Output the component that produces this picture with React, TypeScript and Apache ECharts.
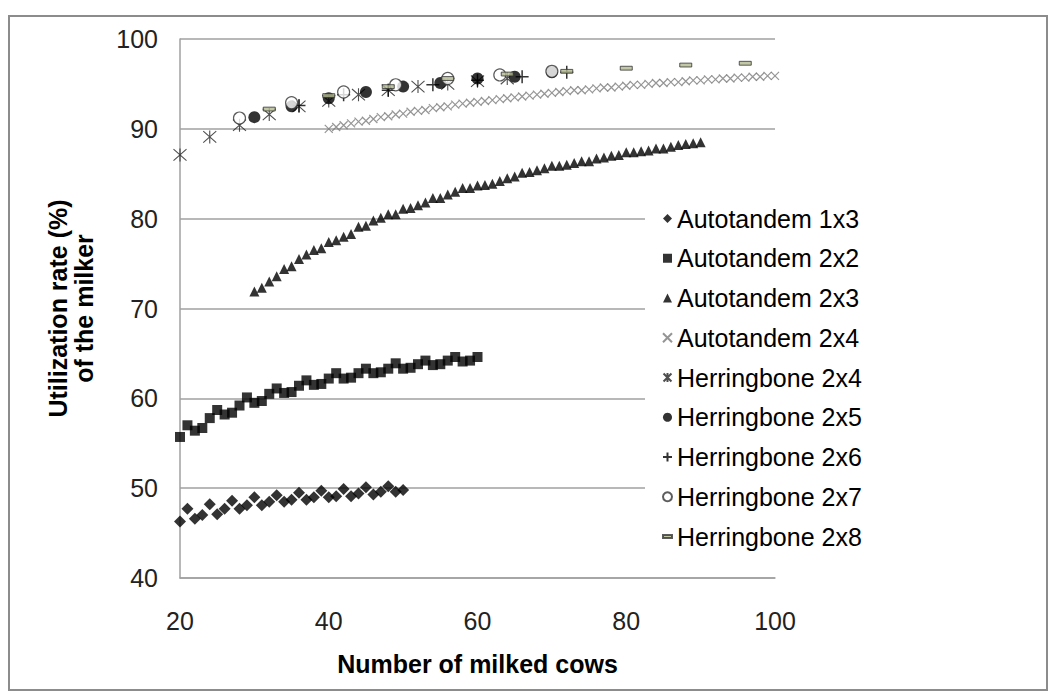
import React, { useEffect, useRef } from "react";
import * as echarts from "echarts";

const FONT = "'Liberation Sans', Arial, Helvetica, sans-serif";

const xTicks = [20, 40, 60, 80, 100];
const yTicks = [40, 50, 60, 70, 80, 90, 100];

const seriesNames = [
  "Autotandem 1x3",
  "Autotandem 2x2",
  "Autotandem 2x3",
  "Autotandem 2x4",
  "Herringbone 2x4",
  "Herringbone 2x5",
  "Herringbone 2x6",
  "Herringbone 2x7",
  "Herringbone 2x8",
];

const at13X = [20, 21, 22, 23, 24, 25, 26, 27, 28, 29, 30, 31, 32, 33, 34, 35, 36, 37, 38, 39, 40, 41, 42, 43, 44, 45, 46, 47, 48, 49, 50];
const at13Y = [46.3, 47.7, 46.6, 47.0, 48.2, 47.1, 47.7, 48.6, 47.7, 48.1, 49.0, 48.1, 48.5, 49.2, 48.5, 48.7, 49.5, 48.7, 49.0, 49.7, 49.0, 49.1, 49.9, 49.1, 49.4, 50.1, 49.3, 49.6, 50.2, 49.6, 49.8];

const at22X = [20, 21, 22, 23, 24, 25, 26, 27, 28, 29, 30, 31, 32, 33, 34, 35, 36, 37, 38, 39, 40, 41, 42, 43, 44, 45, 46, 47, 48, 49, 50, 51, 52, 53, 54, 55, 56, 57, 58, 59, 60];
const at22Y = [55.7, 57.0, 56.4, 56.7, 57.8, 58.7, 58.2, 58.4, 59.2, 60.1, 59.5, 59.7, 60.5, 61.1, 60.6, 60.7, 61.4, 62.0, 61.5, 61.6, 62.2, 62.8, 62.2, 62.3, 62.8, 63.3, 62.8, 62.9, 63.3, 63.9, 63.3, 63.4, 63.8, 64.2, 63.7, 63.8, 64.2, 64.6, 64.1, 64.2, 64.6];

const at23X = [30, 31, 32, 33, 34, 35, 36, 37, 38, 39, 40, 41, 42, 43, 44, 45, 46, 47, 48, 49, 50, 51, 52, 53, 54, 55, 56, 57, 58, 59, 60, 61, 62, 63, 64, 65, 66, 67, 68, 69, 70, 71, 72, 73, 74, 75, 76, 77, 78, 79, 80, 81, 82, 83, 84, 85, 86, 87, 88, 89, 90];
const at23Y = [71.9, 72.3, 73.0, 73.6, 74.4, 74.7, 75.5, 76.0, 76.5, 76.7, 77.4, 77.6, 78.0, 78.3, 79.1, 79.2, 79.8, 80.1, 80.5, 80.5, 81.1, 81.2, 81.5, 81.8, 82.3, 82.3, 82.7, 83.0, 83.4, 83.4, 83.7, 83.75, 83.9, 84.2, 84.5, 84.7, 85.1, 85.2, 85.4, 85.6, 85.9, 85.9, 86.0, 86.2, 86.4, 86.4, 86.7, 86.8, 87.0, 87.1, 87.4, 87.4, 87.5, 87.6, 87.8, 87.8, 88.0, 88.2, 88.3, 88.4, 88.5];

const at24X = [40, 41, 42, 43, 44, 45, 46, 47, 48, 49, 50, 51, 52, 53, 54, 55, 56, 57, 58, 59, 60, 61, 62, 63, 64, 65, 66, 67, 68, 69, 70, 71, 72, 73, 74, 75, 76, 77, 78, 79, 80, 81, 82, 83, 84, 85, 86, 87, 88, 89, 90, 91, 92, 93, 94, 95, 96, 97, 98, 99, 100];
const at24Y = [90.0, 90.2, 90.4, 90.6, 90.8, 90.9, 91.1, 91.3, 91.4, 91.6, 91.7, 91.9, 92.0, 92.1, 92.3, 92.4, 92.5, 92.7, 92.8, 92.9, 93.0, 93.1, 93.2, 93.3, 93.4, 93.5, 93.6, 93.7, 93.8, 93.9, 94.0, 94.1, 94.2, 94.3, 94.3, 94.4, 94.5, 94.6, 94.6, 94.7, 94.8, 94.9, 94.9, 95.0, 95.1, 95.1, 95.2, 95.2, 95.3, 95.4, 95.4, 95.5, 95.5, 95.6, 95.6, 95.7, 95.7, 95.8, 95.8, 95.9, 95.9];

const hb24X = [20, 24, 28, 32, 36, 40, 44, 48, 52, 56, 60, 64];
const hb24Y = [87.1, 89.1, 90.4, 91.6, 92.5, 93.1, 93.8, 94.3, 94.7, 95.0, 95.3, 95.6];

const hb25X = [30, 35, 40, 45, 50, 55, 60, 65, 70];
const hb25Y = [91.3, 92.5, 93.4, 94.1, 94.7, 95.1, 95.6, 95.8, 96.3];

const hb26X = [36, 42, 48, 54, 60, 66, 72];
const hb26Y = [92.6, 93.8, 94.3, 94.9, 95.4, 95.8, 96.3];

const hb27X = [28, 35, 42, 49, 56, 63, 70];
const hb27Y = [91.2, 92.9, 94.1, 94.9, 95.6, 96.0, 96.4];

const hb28X = [32, 40, 48, 56, 64, 72, 80, 88, 96];
const hb28Y = [92.2, 93.7, 94.7, 95.6, 96.1, 96.4, 96.75, 97.1, 97.3];

const SYM_X = "path://M0 0L10 10M10 0L0 10";
const SYM_STAR = "path://M5 0V10M0.6 0.6L9.4 9.4M9.4 0.6L0.6 9.4";
const SYM_PLUS = "path://M5 0V10M0 5H10";
const SYM_DASH = "path://M0 0M10 10M0 3.4H10V6.6H0Z";

const pairs = (xs: number[], ys: number[]) => xs.map((x, i) => [x, ys[i]]);

const seriesDefs = [
  { x: at13X, y: at13Y, symbol: "diamond", size: 12, style: { color: "#000" } },
  { x: at22X, y: at22Y, symbol: "rect", size: 10, style: { color: "#000" } },
  { x: at23X, y: at23Y, symbol: "triangle", size: 10, style: { color: "#000" } },
  { x: at24X, y: at24Y, symbol: SYM_X, size: 8, style: { color: "#7a7a7a", borderColor: "#7a7a7a", borderWidth: 1.2 } },
  { x: hb24X, y: hb24Y, symbol: SYM_STAR, size: 13, style: { color: "#222", borderColor: "#222", borderWidth: 1.1 } },
  { x: hb25X, y: hb25Y, symbol: "circle", size: 12, style: { color: "#000" } },
  { x: hb26X, y: hb26Y, symbol: SYM_PLUS, size: 13, style: { color: "#000", borderColor: "#000", borderWidth: 1.5 } },
  { x: hb27X, y: hb27Y, symbol: "circle", size: 12, style: { color: "#fff", borderColor: "#333", borderWidth: 1.2 } },
  { x: hb28X, y: hb28Y, symbol: SYM_DASH, size: 12, style: { color: "#b3ba8f", borderColor: "#333", borderWidth: 1 } },
];

export default function App() {
  const ref = useRef<HTMLDivElement>(null);
  useEffect(() => {
    const chart = echarts.init(ref.current!, null, { renderer: "svg" });
    const gridColor = "#a0a0a0";
    chart.setOption({
      animation: false,
      backgroundColor: "#fff",
      textStyle: { fontFamily: FONT },
      grid: { left: 180, right: 281, top: 39, bottom: 119 },
      xAxis: {
        type: "value",
        min: xTicks[0],
        max: xTicks[xTicks.length - 1],
        interval: 20,
        axisLine: { show: true, lineStyle: { color: gridColor, width: 1.5 } },
        axisTick: { show: false },
        splitLine: { show: false },
        axisLabel: { fontSize: 25, color: "#222", margin: 30, fontFamily: FONT },
        name: "Number of milked cows",
        nameLocation: "middle",
        nameGap: 73,
        nameTextStyle: { fontSize: 25, fontWeight: "bold", color: "#000", fontFamily: FONT },
      },
      yAxis: {
        type: "value",
        min: yTicks[0],
        max: yTicks[yTicks.length - 1],
        interval: 10,
        axisLine: { show: true, lineStyle: { color: gridColor, width: 1.5 } },
        axisTick: { show: false },
        splitLine: { show: true, lineStyle: { color: gridColor, width: 1.5 } },
        axisLabel: { fontSize: 25, color: "#222", margin: 22, fontFamily: FONT },
        name: "Utilization rate (%)\nof the milker",
        nameLocation: "middle",
        nameGap: 83,
        nameRotate: 90,
        nameTextStyle: { fontSize: 25, fontWeight: "bold", color: "#000", lineHeight: 26, fontFamily: FONT },
      },
      legend: {
        orient: "vertical",
        left: 645,
        top: 200,
        itemWidth: 9,
        itemHeight: 9,
        itemGap: 14.75,
        padding: [6, 10, 6, 17],
        backgroundColor: "#fff",
        selectedMode: false,
        textStyle: { fontSize: 25, lineHeight: 25, color: "#000", fontFamily: FONT },
        data: seriesNames,
      },
      graphic: [
        {
          type: "rect",
          shape: { x: 9, y: 16, width: 1038, height: 674 },
          style: { fill: "none", stroke: "#8c8c8c", lineWidth: 2 },
          silent: true,
        },
      ],
      series: seriesDefs.map((d, i) => ({
        type: "scatter",
        name: seriesNames[i],
        symbol: d.symbol,
        symbolSize: d.size,
        itemStyle: d.style,
        data: pairs(d.x, d.y),
        z: 2 + i,
      })),
    });
    return () => chart.dispose();
  }, []);
  return (
    <div
      ref={ref}
      style={{ position: "fixed", left: 0, top: 0, width: 1056, height: 697, background: "#fff" }}
    />
  );
}
